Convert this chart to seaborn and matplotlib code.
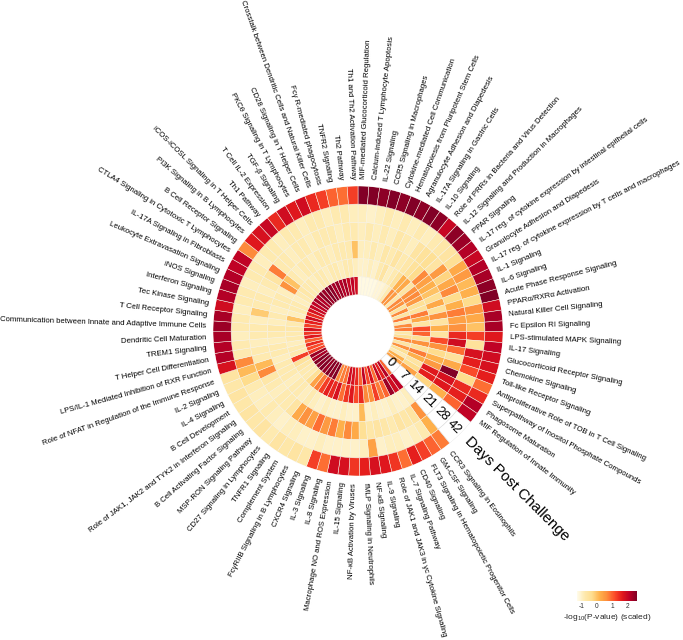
import numpy as np
import matplotlib
matplotlib.use("Agg")
import matplotlib.pyplot as plt
import seaborn as sns

sns.set_theme(style="white")
plt.rcParams["font.family"] = ["Liberation Sans", "DejaVu Sans"]
plt.rcParams["mathtext.default"] = "regular"
plt.rcParams["axes.unicode_minus"] = False

# pathways in clockwise order, starting at 12 o'clock
pathways = [
    "MIF-mediated Glucocorticoid Regulation", "Calcium-induced T Lymphocyte Apoptosis",
    "IL-22 Signaling", "CCR5 Signaling in Macrophages", "Cytokine-mediated Cell Communication",
    "Hematopoiesis from Pluripotent Stem Cells", "Agranulocyte Adhesion and Diapedesis",
    "IL-17A Signaling in Gastric Cells", "IL-10 Signaling",
    "Role of PRRs in Bacteria and Virus Detection", "IL-12 Signaling and Production in Macrophages",
    "PPAR Signaling", "IL-17 reg. of cytokine expression by intestinal epithelial cells",
    "Granulocyte Adhesion and Diapedesis",
    "IL-17 reg. of cytokine expression by T cells and macrophages", "IL-1 Signaling",
    "IL-6 Signaling", "Acute Phase Response Signaling", "PPARα/RXRα Activation",
    "Natural Killer Cell Signaling", "Fc Epsilon RI Signaling", "LPS-stimulated MAPK Signaling",
    "IL-17 Signaling", "Glucocorticoid Receptor Signaling", "Chemokine Signaling",
    "Toll-like Receptor Signaling", "Antiproliferative Role of TOB in T Cell Signaling",
    "Superpathway of Inositol Phosphate Compounds", "Phagosome Maturation",
    "MIF Regulation of Innate Immunity",
    "CCR3 Signaling in Eosinophils", "GM-CSF Signaling",
    "FLT3 Signaling in Hematopoietic Progenitor Cells", "CD40 Signaling",
    "IL-7 Signaling Pathway", "Role of JAK1 and JAK3 in γc Cytokine Signaling",
    "IL-9 Signaling", "NF-κB Signaling", "fMLP Signaling in Neutrophils",
    "NF-κB Activation by Viruses", "IL-15 Signaling", "Macrophage NO and ROS Expression",
    "IL-8 Signaling", "IL-3 Signaling", "CXCR4 Signaling", "FcγRIIB Signaling in B Lymphocytes",
    "Complement System", "TNFR1 Signaling", "CD27 Signaling in Lymphocytes",
    "MSP-RON Signaling Pathway", "B Cell Activating Factor Signaling",
    "Role of JAK1, JAK2 and TYK2 in Interferon Signaling", "B Cell Development",
    "IL-4 Signaling", "IL-2 Signaling", "Role of NFAT in Regulation of the Immune Response",
    "LPS/IL-1 Mediated Inhibition of RXR Function", "T Helper Cell Differentiation",
    "TREM1 Signaling", "Dendritic Cell Maturation",
    "Communication between Innate and Adaptive Immune Cells", "T Cell Receptor Signaling",
    "Tec Kinase Signaling", "Interferon Signaling", "iNOS Signaling",
    "Leukocyte Extravasation Signaling", "IL-17A Signaling in Fibroblasts",
    "CTLA4 Signaling in Cytotoxic T Lymphocytes", "B Cell Receptor Signaling",
    "PI3K Signaling in B Lymphocytes", "iCOS-iCOSL Signaling in T Helper Cells",
    "Th1 Pathway", "T Cell IL-2 Expression", "TGF-β Signaling",
    "PKCθ Signaling in T Lymphocytes", "CD28 Signaling in T Helper Cells",
    "Crosstalk between Dendritic Cells and Natural Killer Cells",
    "Fcγ R-mediated phagocytosis", "TNFR2 Signaling", "Th2 Pathway",
    "Th1 and Th2 Activation Pathway",
]
n_before_gap = 30  # pathways drawn before the gap (right half)

days = ["0", "7", "14", "21", "28", "42"]

# scaled -log10(p) per day, same order as pathways
day0 = [-1.2, -1.2, -1.2, -1.2, -1.2, -1.1, -1.1, -1.0, -0.8, 0.6,
        0.5, -0.7, 0.7, 0.6, -0.5, 0.7, -0.6, 0.8, -0.8, 0.7,
        0.8, -0.7, -0.4, 0.7, -0.6, 0.6, -0.4, -0.8, 0.2, 0.4,
        1.0, 2.2, 1.6, 2.0, 0.9, 1.8, 1.2, 2.1, 1.0, 1.5,
        1.8, 1.9, 0.9, 0.8, 0.7, 2.6, 2.5, 2.6, 2.4, 2.6,
        2.5, 2.6, 2.3, 2.4, 1.3, 1.2, 1.5, 1.0, 1.7, 1.4,
        1.8, 1.3, 1.6, 1.9, 1.5, 1.8, 2.0, 2.1, 2.3, 2.2,
        2.5, 2.4, 2.6, 2.5, 2.3, 2.4, 2.2, 2.3, 2.0, 2.1, 1.9]
day7 = [-1.0, -1.0, -0.9, -1.0, -0.8, -0.6, -0.9, -0.8, -0.5, 0.2,
        0.3, -0.6, 0.6, 0.7, 0.5, -0.4, -0.5, 0.8, 0.3, -0.6,
        1.2, 1.0, -0.4, 0.6, -0.5, 0.8, 0.2, -0.6, -0.3, 0.4,
        2.1, 1.9, 2.4, 1.0, 0.8, 1.3, 0.6, 0.7, 1.5, 1.2,
        1.7, 1.4, 0.9, 1.8, 1.5, 1.6, 1.3, 0.8, 0.4, -0.4,
        -0.8, -0.8, -0.7, -0.5, 1.3, -0.8, -0.8, -0.9, -0.8, -0.8,
        -0.7, -0.8, 0.0, -0.9, -0.8, -0.8, -0.9, -0.8, -0.7, -0.8,
        -0.8, -0.9, -0.8, -0.8, -0.9, -0.8, -0.8, -0.9, -0.8, -0.8, -0.9]
day14 = [-0.9, -0.9, -0.8, -0.9, -0.7, -0.8, -0.6, -0.8, -0.7, -0.5,
         -0.3, 0.7, 0.4, 0.2, 0.0, -0.4, 0.3, -0.5, 0.6, -0.6,
         0.2, -0.6, 1.2, 0.6, -0.3, 0.2, 0.5, 1.7, 1.6, -0.2,
         -0.9, -1.0, -1.0, -0.9, -1.0, -1.0, -0.9, -1.0, 0.1, -1.0,
         -1.0, -0.9, -1.0, -1.0, -0.9, -1.0, -0.9, -0.8, -0.9, -0.8,
         -0.8, -0.9, -0.8, -0.8, -0.8, -0.9, -0.8, -0.8, -0.9, -0.8,
         -0.7, -0.9, -0.8, -0.9, -0.8, -0.8, -0.9, 0.6, 0.0, -0.8,
         -0.9, -0.8, -0.8, -0.9, -0.8, -0.8, -0.9, -0.8, -0.8, -0.8, 0.0]
day21 = [-0.9, -0.8, -0.9, -0.8, -0.9, -0.7, -0.8, -0.9, -0.6, -0.5,
         -0.4, -0.6, 0.5, -0.2, 0.3, 0.7, -0.3, 0.2, 0.8, 0.4,
         0.6, 1.5, 1.9, 0.9, -0.5, 0.3, 2.6, 1.8, 1.7, 0.2,
         0.6, -0.6, -0.7, -0.6, -0.8, -0.7, -0.6, -0.7, -0.4, 0.3,
         0.7, 0.2, 0.8, 0.5, 0.9, 0.4, 0.6, 0.3, -0.6, -0.8,
         -0.8, -0.9, -0.8, -0.7, 0.7, 0.1, -0.8, -0.8, -0.9, -0.8,
         -0.8, -0.9, -0.1, -0.8, -0.8, -0.9, -0.8, -0.6, 0.8, -0.8,
         -0.8, -0.9, -0.8, -0.8, -0.9, -0.8, -0.8, -0.8, -0.9, -0.8, -0.8]
day28 = [-0.9, -1.0, -0.9, -0.8, -0.9, -0.8, -0.9, -0.8, -0.9, -0.8,
         -0.7, -0.6, -0.4, 0.3, 0.5, 0.1, 0.2, -0.3, 0.6, 0.3,
         0.0, 1.3, -0.5, 1.8, 1.6, 1.2, -0.3, 1.5, 1.6, 1.0,
         0.2, -0.8, -0.9, -1.0, -0.9, -0.9, -1.0, 0.4, -0.9, -1.0,
         -1.0, -1.0, -1.0, -0.9, -1.0, -1.0, -0.9, -0.9, -1.0, -0.9,
         -0.8, -0.9, -0.9, -0.8, -0.3, 0.1, 0.7, -0.8, -0.8, -0.9,
         -0.8, -0.8, -0.9, -0.8, -0.8, -0.9, -0.8, -0.8, -0.9, -0.8,
         -0.8, -0.9, -0.8, -0.8, -0.9, -0.8, -0.8, -0.9, -0.8, -0.8, -0.9]
day42 = [2.6, 2.6, 2.5, 2.6, 2.5, 2.6, 2.5, 2.6, 2.5, 2.0,
         2.5, 2.4, 2.2, 2.0, 2.2, 2.3, 2.5, 2.7, 1.9, 2.3,
         2.3, 1.7, 2.1, 1.9, 1.8, 1.6, 0.9, 1.5, 2.2, 2.1,
         0.8, 1.0, 1.3, 1.6, 0.9, 1.4, 1.7, 1.8, 1.6, 1.4,
         1.8, 1.9, 0.9, 1.3, -0.7, -0.6, -0.7, -0.6, -0.8, -0.6,
         -0.7, -0.6, -0.7, -0.6, -0.7, -0.6, 1.8, 2.2, 2.2, 2.3,
         2.4, 2.3, 1.9, 2.2, 2.3, 2.2, 2.1, 2.1, 0.7, 1.7,
         1.8, 2.0, 1.5, 1.9, 1.7, 1.9, 1.5, 1.3, 1.0, 0.9, 1.3]

scores = np.array([day0, day7, day14, day21, day28, day42])

cmap = sns.blend_palette(["#fffcec", "#fee9ae", "#fedd8e", "#feb24c", "#fd8d3c",
                          "#fc4e2a", "#e31a1c", "#bd0026", "#800026"], as_cmap=True)
norm = plt.Normalize(-1.28, 2.62)

n = len(pathways)
slot = np.deg2rad(4.3)
gap = 2 * np.pi - n * slot
idx = np.arange(n)
theta = np.pi / 2 - (idx + 0.5) * slot - np.where(idx >= n_before_gap, gap, 0.0)
gap_theta = np.pi / 2 - n_before_gap * slot - gap / 2
hole = 2.0
r_max = hole + len(days)

W, H = 683, 640
cx, cy, rad = 358, 331, 145
fig = plt.figure(figsize=(W / 100, H / 100), dpi=100)
ax = fig.add_axes([(cx - rad) / W, 1 - (cy + rad) / H, 2 * rad / W, 2 * rad / H],
                  projection="polar")

for k, row in enumerate(scores):
    ax.bar(theta, 1, width=slot, bottom=hole + k, color=cmap(norm(row)),
           edgecolor="#f6f2e6", linewidth=0.35)
ax.bar(np.full(len(days), gap_theta), 1, width=gap, bottom=hole + np.arange(len(days)),
       color="white", edgecolor="#d9d9d9", linewidth=0.35)
ax.set_ylim(0, r_max)
ax.set_axis_off()

# pathway labels, radial
for t, name in zip(theta, pathways):
    deg = (np.rad2deg(t) + 180) % 360 - 180
    if -90 <= deg <= 90:
        rot, ha = deg, "left"
    else:
        rot, ha = (deg - 180 if deg > 0 else deg + 180), "right"
    ax.text(t, r_max + 0.38, name, rotation=rot, rotation_mode="anchor",
            ha=ha, va="center", fontsize=5.6, color="black")

gdeg = np.rad2deg(gap_theta)
for k, d in enumerate(days):
    ax.text(gap_theta, hole + k + 0.5, d, rotation=gdeg, rotation_mode="anchor",
            ha="center", va="center", fontsize=9.5, color="black")
ax.text(gap_theta, r_max + 0.45, "Days Post Challenge", rotation=gdeg,
        rotation_mode="anchor", ha="left", va="center", fontsize=10.9, color="black")

# colour bar
cax = fig.add_axes([577 / W, 1 - 601 / H, 60 / W, 10.5 / H])
sm = plt.cm.ScalarMappable(cmap=cmap, norm=norm)
cb = fig.colorbar(sm, cax=cax, orientation="horizontal", ticks=[-1, 0, 1, 2])
cb.outline.set_visible(False)
cax.tick_params(length=0, labelsize=4.8, pad=1.5, colors="#333333")
cb.set_label("-log$_{10}$(P-value) (scaled)", fontsize=6, labelpad=1.5)

fig.savefig("out.png", dpi=100, facecolor="white")
